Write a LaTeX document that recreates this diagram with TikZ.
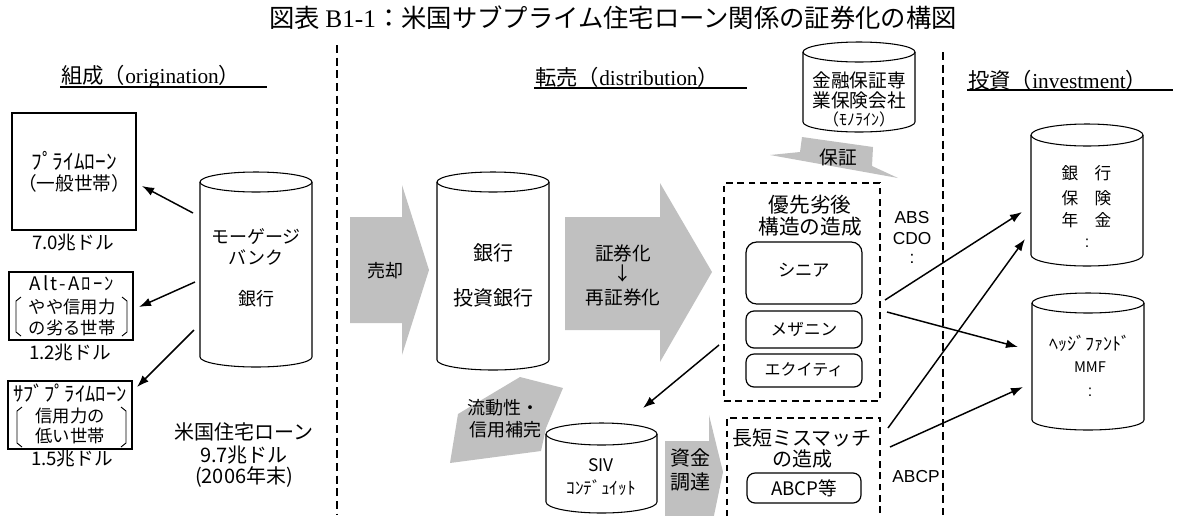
\documentclass[tikz,border=0pt]{standalone}
\usepackage{fontspec}
\setmainfont{Liberation Serif}
\newfontfamily\jp{Noto Sans CJK JP}
\newfontfamily\jpw[LetterSpace=12]{Noto Sans CJK JP}
\newfontfamily\ar{Liberation Sans}
\usetikzlibrary{arrows.meta,calc}
\definecolor{agray}{RGB}{192,192,192}
\newcommand\fs[1]{\fontsize{#1}{#1}\selectfont}
\newcommand\drawcyl[5]{%
  \draw[cyl] (#1,#3) -- (#1,#4) arc[start angle=180,end angle=0,x radius={(#2-#1)/2},y radius=#5] -- (#2,#3);
  \draw[cyl] ({(#1+#2)/2},#3) ellipse[x radius={(#2-#1)/2},y radius=#5];
}
\begin{document}
\begin{tikzpicture}[x=0.75pt,y=-0.75pt,
  cyl/.style={draw=black, line width=0.8pt},
  box/.style={draw=black, line width=0.9pt, inner sep=0pt},
  rbox/.style={draw=black, line width=0.9pt, rounded corners=6pt, inner sep=0pt},
  dbox/.style={draw=black, line width=0.9pt, dash pattern=on 5pt off 3.5pt, inner sep=0pt},
  vsep/.style={draw=black, line width=0.8pt, dash pattern=on 6pt off 3.5pt},
  conn/.style={draw=black, line width=1.1pt, -{Latex[length=9pt,width=6.5pt]}},
  brk/.style={draw=black, line width=0.7pt},
  t/.style={inner sep=0pt, font=\jp\fs{13}},
]
\useasboundingbox (0,0) rectangle (1177,515);
\clip (0,0) rectangle (1177,515);

% title
\node[t, font=\jp\fs{19}] (title) at (613,18) {図表 {\rmfamily B1-1}：米国サブプライム住宅ローン関係の証券化の構図};

% headers
\node[t, font=\jp\fs{16}, anchor=west] (h1) at (61,77) {組成（{\rmfamily origination}）};
\draw[line width=0.9pt] (60,87) -- (267,87);
\node[t, font=\jp\fs{16}, anchor=west] (h2) at (535,77) {転売（{\rmfamily distribution}）};
\draw[line width=0.9pt] (534,88) -- (747,88);
\node[t, font=\jp\fs{16}, anchor=west] (h3) at (968,80) {投資（{\rmfamily investment}）};
\draw[line width=0.9pt] (967,90) -- (1173,90);

% separators
\draw[vsep] (337,45) -- (337,515);
\draw[vsep] (943,52) -- (943,515);

% left boxes
\node[box, minimum width=93pt, minimum height=87.75pt] (prime) at (74,171.5) {};
\node[t, font=\jp\fs{16}] (prime1) at (74,161) {ﾌﾟﾗｲﾑﾛｰﾝ};
\node[t, font=\jp\fs{14}] (prime2) at (74,183) {（一般世帯）};
\node[t, font=\jp\fs{14}] (primev) at (73,243) {7.0兆ドル};

\node[box, minimum width=93pt, minimum height=51pt] (alta) at (71,306) {};
\node[t, font=\jpw\fs{14}] (alta1) at (72,283) {Alt-Aﾛｰﾝ};
\node[t] (alta2) at (72,307) {やや信用力};
\node[t] (alta3) at (72,328) {の劣る世帯};
\draw[brk] (21,297) -- (16,301) -- (16,332) -- (21,336);
\draw[brk] (122,297) -- (127,301) -- (127,332) -- (122,336);
\node[t, font=\jp\fs{14}] (altav) at (70,353) {1.2兆ドル};

\node[box, minimum width=93pt, minimum height=51pt] (subp) at (70,415) {};
\node[t, font=\jp\fs{15.5}] (subp1) at (70,393) {ｻﾌﾞﾌﾟﾗｲﾑﾛｰﾝ};
\node[t] (subp2) at (70,416) {信用力の};
\node[t] (subp3) at (70,436) {低い世帯};
\draw[brk] (22,407) -- (17,411) -- (17,443) -- (22,447);
\draw[brk] (121,407) -- (126,411) -- (126,443) -- (121,447);
\node[t, font=\jp\fs{14}] (subpv) at (72,459) {1.5兆ドル};

% mortgage bank cylinder
\drawcyl{200}{312}{182}{357}{10}
\node[t, font=\jp\fs{13.5}] (mb1) at (256,237) {モーゲージ};
\node[t, font=\jp\fs{13.5}] (mb2) at (256,258) {バンク};
\node[t, font=\jp\fs{13.5}] (mb3) at (256,299) {銀行};
\coordinate (mbo1) at (193,213);
\coordinate (mbo2) at (195,282);
\coordinate (mbo3) at (194,330);
\coordinate (primein) at (142,186);
\coordinate (altain) at (139,307);
\coordinate (subpin) at (137,387);
\draw[conn] (mbo1) -- (primein);
\draw[conn] (mbo2) -- (altain);
\draw[conn] (mbo3) -- (subpin);

\node[t, font=\jp\fs{15}] (us1) at (244,432) {米国住宅ローン};
\node[t, font=\jp\fs{15}] (us2) at (244,455) {9.7兆ドル};
\node[t, font=\jp\fs{15}] (us3) at (244,477) {(2006年末)};

% sale arrow
\fill[agray] (350,217) -- (402,217) -- (402,185) -- (429,270) -- (402,355) -- (402,323) -- (350,323) -- cycle;
\node[t, font=\jp\fs{13.5}] (sell) at (385,271) {売却};

% bank cylinder
\drawcyl{437}{549}{182}{360}{10}
\node[t, font=\jp\fs{15}] (bk1) at (493,253) {銀行};
\node[t, font=\jp\fs{15}] (bk2) at (493,298) {投資銀行};

% securitization arrow
\fill[agray] (565,217) -- (660,217) -- (660,183) -- (712,272) -- (660,362) -- (660,330) -- (565,330) -- cycle;
\node[t, font=\jp\fs{14}] (sec1) at (623,253) {証券化};
\node[t, font=\jp\fs{14}] (sec2) at (623,273) {↓};
\node[t, font=\jp\fs{14}] (sec3) at (623,297) {再証券化};

% monoline cylinder
\drawcyl{803}{915}{52}{122}{10}
\node[t, font=\jp\fs{14}] (mono1) at (859,80) {金融保証専};
\node[t, font=\jp\fs{14}] (mono2) at (859,100) {業保険会社};
\node[t, font=\jp\fs{12}] (mono3) at (859,119) {（ﾓﾉﾗｲﾝ）};

% guarantee arrow
\fill[agray] (802,137) -- (873,147) -- (872,166) -- (898,178) -- (770,155) -- (800,152) -- cycle;
\node[t, font=\jp\fs{14}] (guar) at (838,157) {保証};

% tranche box
\node[dbox, minimum width=117pt, minimum height=163.5pt] (tranche) at (802,292) {};
\node[t, font=\jp\fs{15.5}] (tr1) at (810,205) {優先劣後};
\node[t, font=\jp\fs{15.5}] (tr2) at (810,227) {構造の造成};
\node[rbox, rounded corners=8pt, minimum width=87pt, minimum height=46.5pt] (senior) at (804,273) {};
\node[t] (seniort) at (804,270) {シニア};
\node[rbox, minimum width=87pt, minimum height=27.75pt] (mezz) at (804,329.5) {};
\node[t, font=\jp\fs{12.5}] (mezzt) at (804,329) {メザニン};
\node[rbox, minimum width=87pt, minimum height=24.75pt] (equity) at (804,370.5) {};
\node[t, font=\jp\fs{12}] (equityt) at (804,370) {エクイティ};

% liquidity arrow
\fill[agray] (520,377) -- (563,388) -- (546,428) -- (541,451) -- (450,463) -- (458,414) -- cycle;
\node[t, font=\jp\fs{13.5}] (liq1) at (503,408) {流動性・};
\node[t, font=\jp\fs{13.5}] (liq2) at (505,430) {信用補完};

% SIV cylinder
\drawcyl{546}{657}{434}{502}{11}
\node[t, font=\jp\fs{13}] (siv1) at (601,465) {SIV};
\node[t, font=\jp\fs{13}] (siv2) at (601,488) {ｺﾝﾃﾞｭｲｯﾄ};
\coordinate (trout) at (719,345);
\coordinate (sivin) at (643,408);
\draw[conn] (trout) -- (sivin);

% funding arrow
\fill[agray] (665,441) -- (709,441) -- (709,415) -- (723,472) -- (711,530) -- (665,530) -- cycle;
\node[t, font=\jp\fs{15}] (fund1) at (690,458) {資金};
\node[t, font=\jp\fs{15}] (fund2) at (690,482) {調達};

% mismatch box
\node[dbox, minimum width=114.75pt, minimum height=84pt] (mism) at (803.5,474) {};
\node[t, font=\jp\fs{15}] (mm1) at (802,438) {長短ミスマッチ};
\node[t, font=\jp\fs{15}] (mm2) at (802,459) {の造成};
\node[rbox, minimum width=85.5pt, minimum height=22.5pt] (abcpbox) at (804,488) {};
\node[t, font=\jp\fs{14}] (abcpt) at (804,488) {ABCP等};

% labels
\node[t, font=\ar\fs{13}] (abs) at (912,218) {ABS};
\node[t, font=\ar\fs{13}] (cdo) at (912,239) {CDO};
\node[t, font=\ar\fs{13}] (dots1) at (912,259) {:};
\node[t, font=\ar\fs{13}] (abcp) at (916,477) {ABCP};

% investor cylinders
\drawcyl{1031}{1143}{135}{255}{11}
\node[t, font=\jp\fs{12.5}] (iv1a) at (1070,173) {銀};
\node[t, font=\jp\fs{12.5}] (iv1b) at (1103,173) {行};
\node[t, font=\jp\fs{12.5}] (iv2a) at (1070,198) {保};
\node[t, font=\jp\fs{12.5}] (iv2b) at (1103,198) {険};
\node[t, font=\jp\fs{12.5}] (iv3a) at (1070,220) {年};
\node[t, font=\jp\fs{12.5}] (iv3b) at (1103,220) {金};
\node[t, font=\ar\fs{12}] (iv4) at (1087,243) {:};

\drawcyl{1032}{1144}{303}{420}{10}
\node[t, font=\jp\fs{13.5}] (hf1) at (1090,343) {ﾍｯｼﾞﾌｧﾝﾄﾞ};
\node[t, font=\jp\fs{11}] (hf2) at (1090,367) {MMF};
\node[t, font=\ar\fs{12}] (hf3) at (1090,392) {:};

\coordinate (s1) at (885,300);
\coordinate (s2) at (887,312);
\coordinate (s3) at (888,428);
\coordinate (s4) at (890,447);
\coordinate (b1) at (1022,212);
\coordinate (b2) at (1025,239);
\coordinate (f1) at (1018,347);
\coordinate (f2) at (1023,387);
\draw[conn] (s1) -- (b1);
\draw[conn] (s2) -- (f1);
\draw[conn] (s3) -- (b2);
\draw[conn] (s4) -- (f2);
\end{tikzpicture}
\end{document}
